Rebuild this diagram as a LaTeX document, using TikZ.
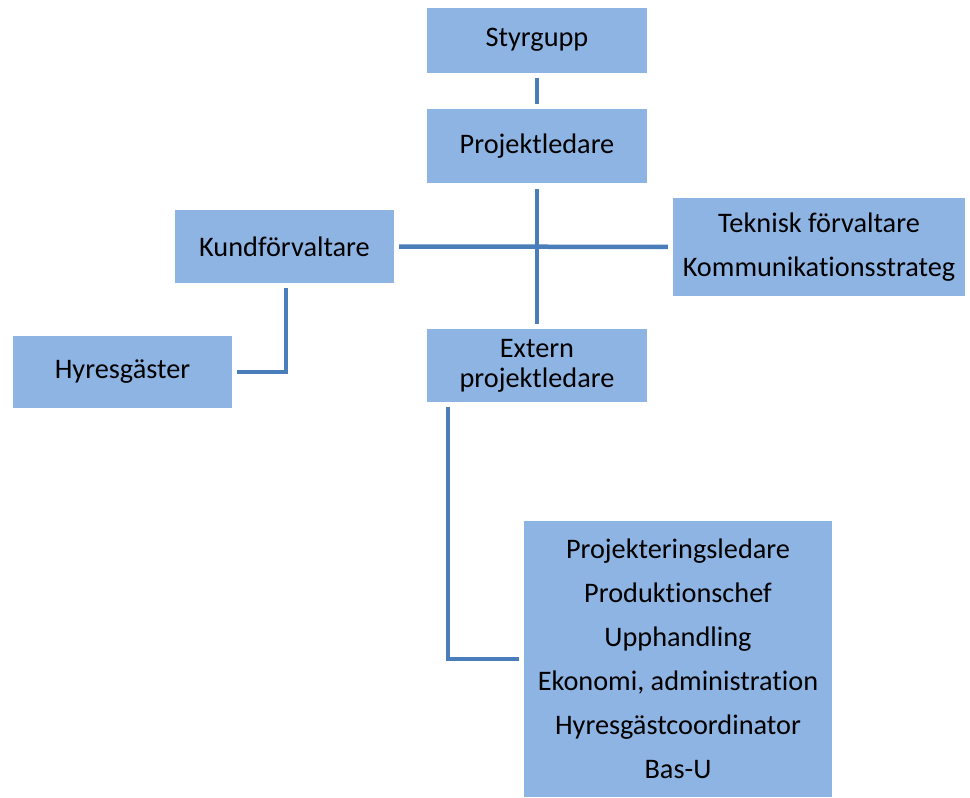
\documentclass[tikz,border=0pt]{standalone}
\usepackage{fontspec}
\setmainfont[Ligatures=NoCommon]{Carlito}
\definecolor{boxfill}{HTML}{8EB4E3}
\definecolor{linecol}{HTML}{4A7EBB}
\begin{document}
\begin{tikzpicture}[x=1pt,y=-1pt,
  orgbox/.style={fill=boxfill, draw=none, inner sep=0pt, align=center,
    font=\fontsize{28.3}{30}\selectfont, text=black},
  conn/.style={draw=linecol, line width=4.5pt},
  wide/.style={font=\fontsize{28.3}{44}\selectfont}]
\useasboundingbox (0,0) rectangle (970,798);
\node[orgbox, minimum width=220pt, minimum height=65pt] (sty) at (537,40) {Styrgupp};
\node[orgbox, minimum width=220pt, minimum height=74pt] (proj) at (537,146) {Projektledare};
\node[orgbox, minimum width=219pt, minimum height=73pt] (kund) at (284.5,246.5) {Kundförvaltare};
\node[orgbox, wide, minimum width=292pt, minimum height=98pt] (tek) at (819,247) {Teknisk förvaltare\\Kommunikationsstrateg};
\node[orgbox, minimum width=219pt, minimum height=72pt] (hyr) at (122.5,372) {Hyresgäster};
\node[orgbox, minimum width=220pt, minimum height=73pt] (ext) at (537,365.5) {Extern\\projektledare};
\node[orgbox, wide, minimum width=308pt, minimum height=276pt] (big) at (678,659) {Projekteringsledare\\Produktionschef\\Upphandling\\Ekonomi, administration\\Hyresgästcoordinator\\Bas-U};
\draw[conn, shorten <=5pt, shorten >=5pt] (sty) -- (proj);
\draw[conn, shorten <=6pt, shorten >=5pt] (proj) -- (ext);
\draw[conn, shorten <=5pt, shorten >=5pt] (kund) -- (tek);
\draw[conn, shorten <=5pt, shorten >=5pt] ([xshift=1.5pt]kund.south) |- (hyr.east);
\draw[conn, shorten <=5pt, shorten >=5pt] ([xshift=21pt]ext.south west) |- (big.west);
\end{tikzpicture}
\end{document}
